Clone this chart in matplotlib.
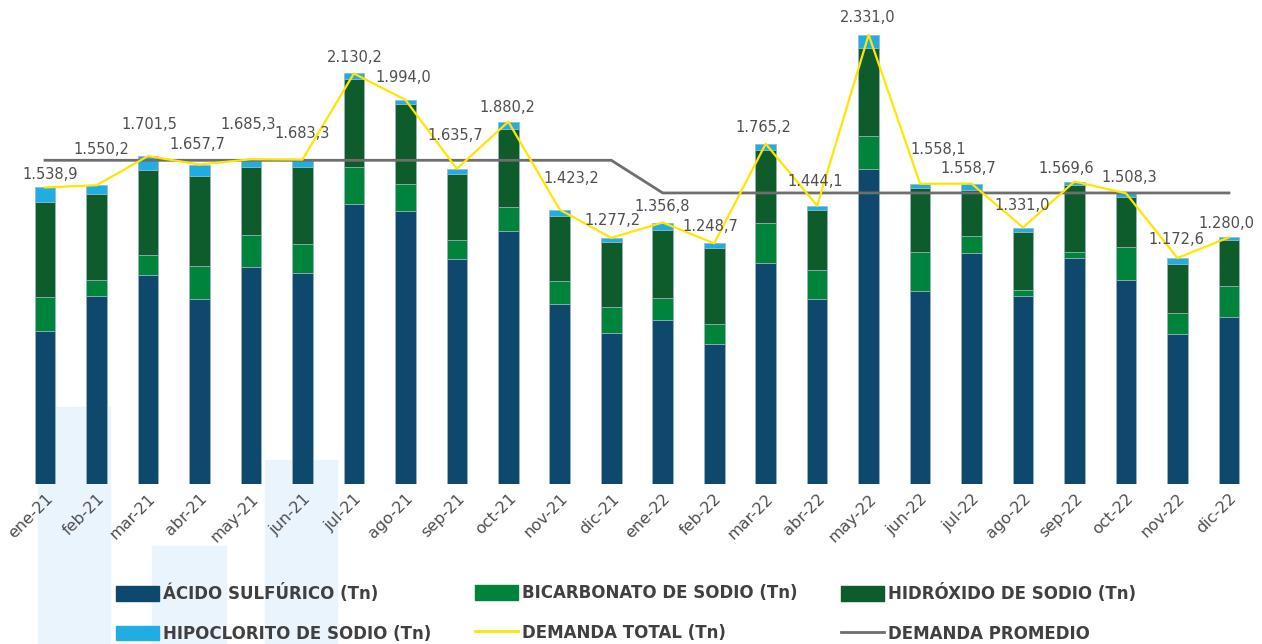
import matplotlib
matplotlib.use('Agg')
import matplotlib.pyplot as plt
from matplotlib.patches import Rectangle, Patch
from matplotlib.lines import Line2D
import numpy as np

# months
months = ['ene-21', 'feb-21', 'mar-21', 'abr-21', 'may-21', 'jun-21',
          'jul-21', 'ago-21', 'sep-21', 'oct-21', 'nov-21', 'dic-21',
          'ene-22', 'feb-22', 'mar-22', 'abr-22', 'may-22', 'jun-22',
          'jul-22', 'ago-22', 'sep-22', 'oct-22', 'nov-22', 'dic-22']

# stacked components (Tn)
acido = [792, 974, 1083, 958, 1128, 1093, 1455, 1418, 1166, 1315, 932, 785,
         849, 728, 1145, 962, 1635, 1000, 1199, 974, 1175, 1060, 777, 865]
bicarbonato = [178, 85, 104, 173, 164, 151, 190, 139, 100, 121, 121, 134,
               116, 102, 209, 149, 171, 202, 86, 33, 27, 172, 110, 162]
hidroxido = [495, 448, 441, 469, 353, 403, 458, 413, 344, 408, 340, 339,
             355, 396, 377, 313, 457, 332, 241, 302, 351, 257, 255, 241]
# total demand as labelled
demanda_total = [1538.9, 1550.2, 1701.5, 1657.7, 1685.3, 1683.3, 2130.2,
                 1994.0, 1635.7, 1880.2, 1423.2, 1277.2, 1356.8, 1248.7,
                 1765.2, 1444.1, 2331.0, 1558.1, 1558.7, 1331.0, 1569.6,
                 1508.3, 1172.6, 1280.0]
# hipoclorito = rest of the total
hipoclorito = [t - a - b - h for t, a, b, h in
               zip(demanda_total, acido, bicarbonato, hidroxido)]

# yearly average demand
prom_21 = np.mean(demanda_total[:12])
prom_22 = np.mean(demanda_total[12:])
demanda_promedio = [prom_21] * 12 + [prom_22] * 12

# label offsets in pixels (dx, dy)
label_dx = [5, 5, 1, -2, -3, 0, 1, -2, -2, -1, 12, 1,
            -1, -4, -2, -2, -1, 18, -3, -1, -8, 3, -1, -3]
label_dy = [13, 36, 32, 20, 35, 26, 16, 22, 33, 14, 31, 17,
            16, 17, 16, 24, 17, 34, 15, 22, 13, 16, 19, 14]

C_ACIDO = '#0e486d'
C_BICARB = '#00843b'
C_HIDROX = '#0e5b2b'
C_HIPO = '#22ade2'
C_TOTAL = '#ffe500'
C_PROM = '#6e6e6e'
C_TEXT = '#4f4f4f'

fig = plt.figure(figsize=(12.62, 6.44), dpi=100)

# faint background blocks
for x0, y0, w, h in [(38, 0, 72, 237), (152, 0, 74, 98), (265, 0, 72, 184)]:
    fig.patches.append(Rectangle((x0 / 1262, y0 / 644), w / 1262, h / 644,
                                 transform=fig.transFigure,
                                 color='#eaf4fc', zorder=-1))

ax = fig.add_axes([19.3 / 1262, 1 - 484 / 644, 1235.4 / 1262, 462.5 / 644])
ax.patch.set_alpha(0)

x = np.arange(len(months))
w = 0.4
edge = dict(edgecolor='#9fb3c0', linewidth=0.5)
b1 = np.array(acido)
b2 = b1 + np.array(bicarbonato)
b3 = b2 + np.array(hidroxido)
ax.bar(x, acido, w, color=C_ACIDO, zorder=2, **edge)
ax.bar(x, bicarbonato, w, bottom=b1, color=C_BICARB, zorder=2, **edge)
ax.bar(x, hidroxido, w, bottom=b2, color=C_HIDROX, zorder=2, **edge)
ax.bar(x, hipoclorito, w, bottom=b3, color=C_HIPO, zorder=2, **edge)

ax.plot(x, demanda_promedio, color=C_PROM, lw=2.0, zorder=3)
ax.plot(x, demanda_total, color=C_TOTAL, lw=1.6, zorder=4)

for i, v in enumerate(demanda_total):
    txt = '{:,.1f}'.format(v).replace(',', 'X').replace('.', ',').replace('X', '.')
    ax.annotate(txt, (x[i], v), xytext=(label_dx[i], label_dy[i]),
                textcoords='offset pixels', ha='center', va='center',
                fontsize=10.5, color=C_TEXT, zorder=5)

ax.set_xlim(-0.5, 23.5)
ax.set_ylim(0, 2400)
ax.set_yticks([])
ax.set_xticks(x)
ax.set_xticklabels(months, rotation=45, ha='right', rotation_mode='anchor',
                   fontsize=11.5, color=C_TEXT)
ax.tick_params(axis='x', length=0, pad=5)
for s in ax.spines.values():
    s.set_visible(False)

# legend, three columns of two entries
cols = [
    ([Patch(color=C_ACIDO), Patch(color=C_HIPO)],
     ['ÁCIDO SULFÚRICO (Tn)', 'HIPOCLORITO DE SODIO (Tn)'], 101),
    ([Patch(color=C_BICARB), Line2D([], [], color=C_TOTAL, lw=2)],
     ['BICARBONATO DE SODIO (Tn)', 'DEMANDA TOTAL (Tn)'], 460),
    ([Patch(color=C_HIDROX), Line2D([], [], color=C_PROM, lw=2)],
     ['HIDRÓXIDO DE SODIO (Tn)', 'DEMANDA PROMEDIO'], 826),
]
for handles, labels, px in cols:
    fig.legend(handles, labels, loc='upper left',
               bbox_to_anchor=(px / 1262, 1 - 569 / 644),
               frameon=False, handlelength=2.6, handleheight=1.0,
               handletextpad=0.2, labelspacing=1.3,
               prop=dict(size=12, weight='bold'), labelcolor='#404040')

fig.savefig('out.png', dpi=100)
